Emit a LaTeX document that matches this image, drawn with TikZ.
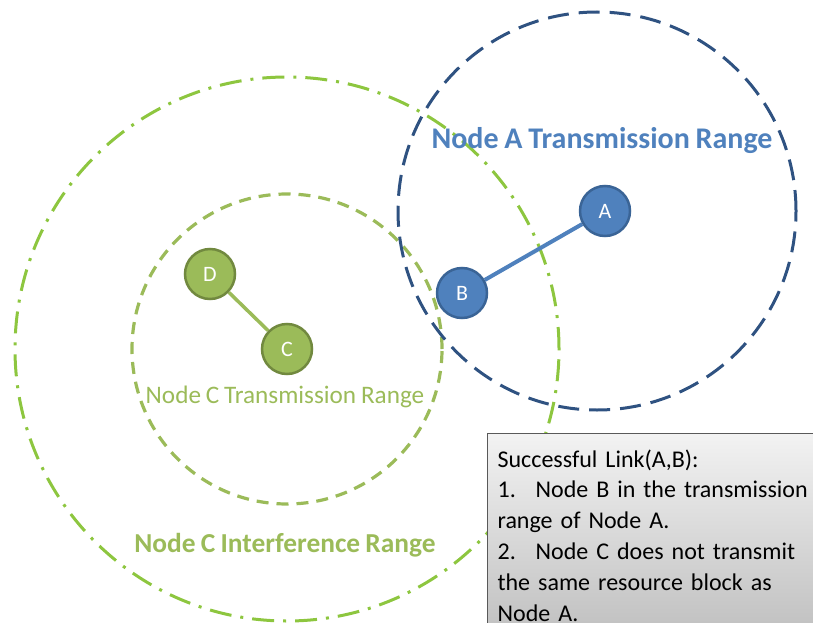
\documentclass[tikz,border=0pt]{standalone}
\usepackage{fontspec}
\setmainfont{Carlito}[WordSpace=0.85]
\usepackage{xcolor}
\usepackage{tikz}
\usetikzlibrary{positioning, backgrounds}

\definecolor{nodeblue}{HTML}{4F81BD}
\definecolor{nodeblueline}{HTML}{3A6496}
\definecolor{rangeblue}{HTML}{2F5281}
\definecolor{nodegreen}{HTML}{9BBB59}
\definecolor{nodegreenline}{HTML}{71893F}
\definecolor{interfgreen}{HTML}{8DC63F}

\tikzset{
  bluenode/.style={circle, draw=nodeblueline, fill=nodeblue, line width=2.5pt,
    minimum size=50pt, inner sep=0pt, text=white, font=\fontsize{22}{22}\selectfont},
  greennode/.style={circle, draw=nodegreenline, fill=nodegreen, line width=2.5pt,
    minimum size=50pt, inner sep=0pt, text=white, font=\fontsize{22}{22}\selectfont},
  arange/.style={draw=rangeblue, line width=3pt, dash pattern=on 21pt off 10pt},
  crange/.style={draw=nodegreen, line width=3.2pt, dash pattern=on 12pt off 8pt},
  irange/.style={draw=interfgreen, line width=3pt, dash pattern=on 22pt off 9pt on 3pt off 9pt},
  notebox/.style={draw=black!65, line width=1.2pt, top color=black!5, bottom color=black!25,
    text width=330pt, align=left, inner xsep=10pt, inner ysep=16pt,
    font=\fontsize{24}{30.8}\selectfont}
}

\begin{document}
\begin{tikzpicture}[x=1pt, y=-1pt, on grid]
    \useasboundingbox (0,0) rectangle (813,623);
    \clip (0,0) rectangle (813,623);

    \node[greennode] (C) at (287,349) {C};
    \node[greennode, above left=75pt and 77pt of C] (D) {D};
    \node[bluenode] (A) at (605,211) {A};
    \node[bluenode, below left=82pt and 143pt of A] (B) {B};

    \begin{scope}[on background layer]
        \draw[irange] (C) circle[radius=272pt];
        \draw[crange] (C) circle[radius=155pt];
        \draw[arange] (A) ++(-8,0) circle[radius=199pt];
        \draw[nodeblue, line width=4pt] (A) -- (B);
        \draw[nodegreen, line width=3.5pt] (D) -- (C);
    \end{scope}

    \node[anchor=base, text=nodeblue, font=\bfseries\fontsize{30}{30}\selectfont] (alabel) at (602,148) {Node A Transmission Range};
    \node[anchor=base, text=nodegreen, font=\fontsize{25.2}{25.2}\selectfont] (ctxlabel) at (285,403) {Node C Transmission Range};
    \node[anchor=base, text=nodegreen, font=\bfseries\fontsize{27.4}{27.4}\selectfont] (cinflabel) at (285,552) {Node C Interference Range};

    \node[notebox, anchor=north west] (note) at (487,433) {Successful Link(A,B):\\
      \makebox[38pt][l]{1.}Node B in the transmission\\
      range of Node A.\\
      \makebox[38pt][l]{2.}Node C does not transmit\\
      the same resource block as\\
      Node A.};

\end{tikzpicture}
\end{document}
